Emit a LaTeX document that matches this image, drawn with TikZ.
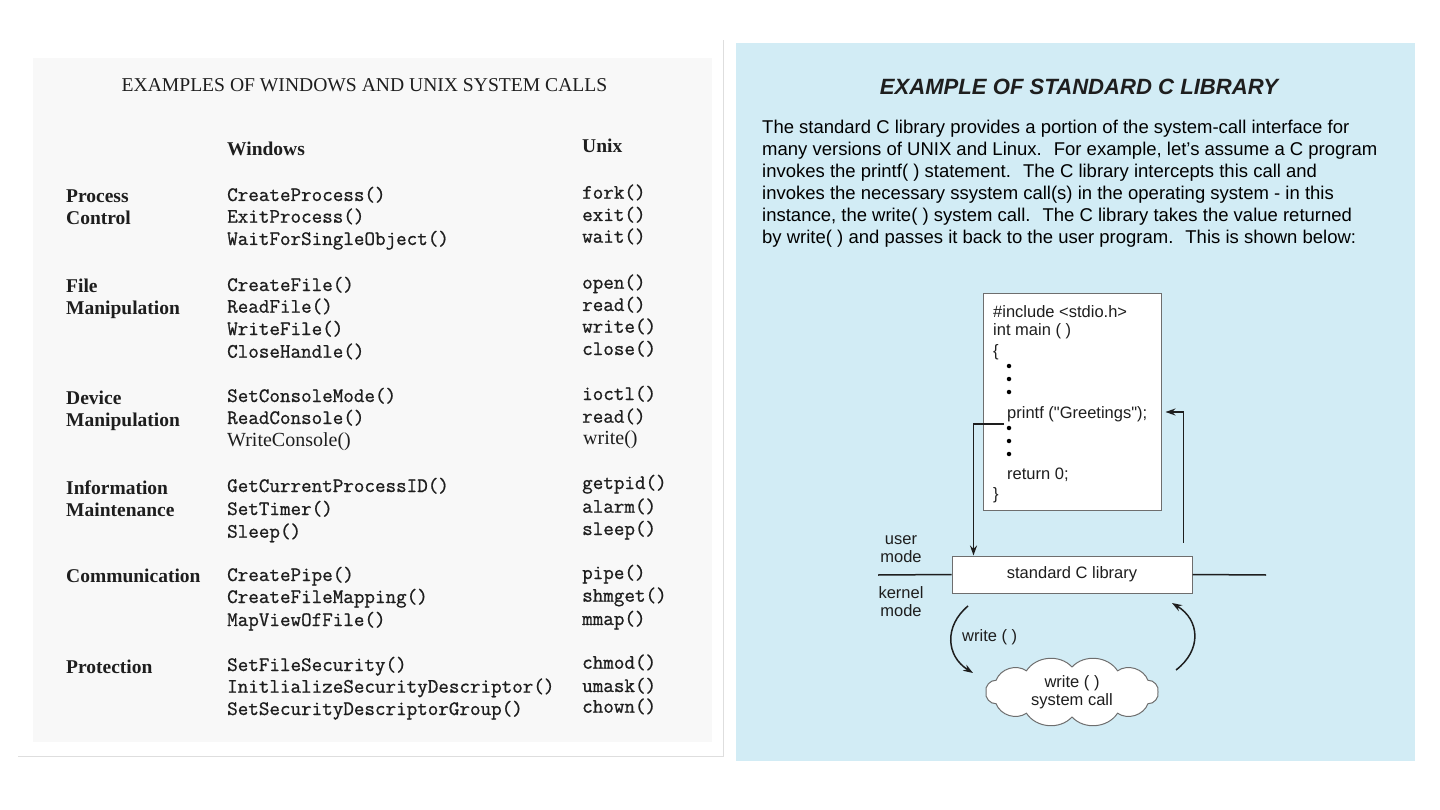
\documentclass[tikz,border=0pt]{standalone}
\usepackage{fontspec}
\setmainfont{Liberation Serif}
\newfontfamily\arialf{Liberation Sans}
\newfontfamily\monof[FakeBold=0.9]{Latin Modern Mono}
\usetikzlibrary{calc,arrows.meta}
\definecolor{panelblue}{RGB}{210,236,245}
\definecolor{paper}{RGB}{248,248,248}
\definecolor{edgegray}{RGB}{222,222,222}
\definecolor{ink}{RGB}{30,30,30}
\definecolor{boxedge}{RGB}{110,110,110}
\begin{document}
\begin{tikzpicture}[x=1pt,y=-1pt,
  rowlbl/.style={anchor=base west,inner sep=0pt,text=ink,font=\fontsize{19.5}{19.5}\selectfont\bfseries},
  hdr/.style={anchor=base west,inner sep=0pt,text=ink,font=\fontsize{19.5}{19.5}\selectfont\bfseries},
  call/.style={anchor=base west,inner sep=0pt,text=ink,font=\monof\fontsize{20.5}{20.5}\selectfont},
  rcall/.style={anchor=base west,inner sep=0pt,text=ink,font=\fontsize{20}{20}\selectfont},
  para/.style={anchor=base west,inner sep=0pt,text=black,font=\arialf\fontsize{18.5}{22}\selectfont},
  code/.style={anchor=base west,inner sep=0pt,text=ink,font=\arialf\fontsize{16.5}{18}\selectfont},
  small/.style={inner sep=0pt,text=ink,align=center,font=\arialf\fontsize{16.5}{18}\selectfont},
  arr/.style={draw=ink,line width=1.5pt,-{Stealth[length=10pt,width=7pt]}},
  puff/.style={bend left=52},
  dot/.style={circle,fill=black,inner sep=0pt,minimum size=4.5pt}]
\useasboundingbox (0,0) rectangle (1440,810);
\fill[white] (0,0) rectangle (1440,810);
% ---------- left panel ----------
\fill[paper] (33,58) rectangle (712,742);
\draw[edgegray,line width=1pt] (18,756) -- (723,756) -- (723,40);
\node[anchor=base,inner sep=0pt,text=ink,font=\fontsize{19.6}{19.6}\selectfont] (ttl) at (364.5,91.5) {EXAMPLES OF WINDOWS AND UNIX SYSTEM CALLS};
\node[hdr] (hw) at (227,156) {Windows};
\node[hdr] (hu) at (582,153) {Unix};
\foreach \t/\y [count=\i] in {Process/196.7,Control/219,File/286.7,Manipulation/308,Device/398,Manipulation/420,Information/488,Maintenance/510,Communication/576.7,Protection/667.7}
  \node[rowlbl] (l\i) at (66,\y+6) {\t};
\foreach \t/\y [count=\i] in {CreateProcess()/195,ExitProcess()/216.7,WaitForSingleObject()/239,CreateFile()/285,ReadFile()/306.7,WriteFile()/329,CloseHandle()/351.7,SetConsoleMode()/396,ReadConsole()/418,GetCurrentProcessID()/486,SetTimer()/509,Sleep()/531.7,CreatePipe()/575,CreateFileMapping()/597,MapViewOfFile()/620,SetFileSecurity()/665,InitlializeSecurityDescriptor()/686.7,SetSecurityDescriptorGroup()/709}
  \node[call] (w\i) at (227,\y+6) {\t};
\node[rcall] (wwc) at (227,446) {WriteConsole()};
\foreach \t/\y [count=\i] in {fork()/192.7,exit()/215,wait()/236.7,open()/282.7,read()/305,write()/326.7,close()/349,ioctl()/394,read()/416.7,getpid()/483,alarm()/506.7,sleep()/529,pipe()/573,shmget()/595.7,mmap()/619,chmod()/662.7,umask()/686,chown()/706.7}
  \node[call] (u\i) at (582,\y+6) {\t};
\node[rcall] (uwr) at (583,444) {write()};
% ---------- right panel ----------
\fill[panelblue] (736,43) rectangle (1415,761);
\node[anchor=base,inner sep=0pt,text=ink,font=\arialf\fontsize{22.1}{22.1}\selectfont\bfseries\itshape] (rt) at (1079,95) {EXAMPLE OF STANDARD C LIBRARY};
\node[para] (p1) at (762,134) {The standard C library provides a portion of the system-call interface for};
\node[para] (p2) at (762,156) {many versions of UNIX and Linux.~ For example, let’s assume a C program};
\node[para] (p3) at (762,178) {invokes the printf( ) statement.~ The C library intercepts this call and};
\node[para] (p4) at (762,200) {invokes the necessary ssystem call(s) in the operating system - in this};
\node[para] (p5) at (762,222) {instance, the write( ) system call.~ The C library takes the value returned};
\node[para] (p6) at (762,244) {by write( ) and passes it back to the user program.~ This is shown below:};
% code box
\node[draw=boxedge,fill=white,line width=1pt,minimum width=178pt,minimum height=216pt,inner sep=0pt] (cb) at (1072,402) {};
\node[code] (c1) at (993,317) {\#include <stdio.h>};
\node[code] (c2) at (993,335) {int main ( )};
\node[code] (c3) at (993,356) {\{};
\node[dot] (d1) at (1009,366) {};
\node[dot] (d2) at (1009,379) {};
\node[dot] (d3) at (1009,392) {};
\node[code] (pf) at (1007,418) {printf ("Greetings");};
\node[dot] (d4) at (1009,428) {};
\node[dot] (d5) at (1009,441) {};
\node[dot] (d6) at (1009,454) {};
\node[code] (c4) at (1007,479) {return 0;};
\node[code] (c5) at (993,499) {\}};
% library box and mode line
\node[draw=boxedge,fill=white,line width=1pt,minimum width=240pt,minimum height=37pt,inner sep=0pt,font=\arialf\fontsize{16.5}{18}\selectfont,text=ink] (lib) at (1072,574.5) {standard C library};
\coordinate (ml) at (878,575);
\coordinate (mr) at (1266,575);
\draw[ink,line width=1.5pt] (ml) -- (lib.west);
\draw[ink,line width=1.5pt] (lib.east) -- (mr);
\node[small] (um) at (901,549.5) {user\\mode};
\node[small] (km) at (901,601.5) {kernel\\mode};
% arrows between program and library
\draw[arr] ([xshift=-3pt,yshift=-6pt]pf.base west) -| ([xshift=22pt]lib.north west);
\draw[arr] ([xshift=-9pt,yshift=13pt]lib.north east) |- ([xshift=18pt,yshift=6pt]pf.base east);
% cloud
\coordinate (cc) at (1072,692);
\draw[draw=boxedge,fill=white,line width=1pt]
  ($(cc)+(0:86 and 25)$)
  to[puff] ($(cc)+(28:86 and 25)$)
  to[puff] ($(cc)+(58:86 and 25)$)
  to[puff] ($(cc)+(90:86 and 25)$)
  to[puff] ($(cc)+(122:86 and 25)$)
  to[puff] ($(cc)+(152:86 and 25)$)
  to[puff] ($(cc)+(180:86 and 25)$)
  to[puff] ($(cc)+(208:86 and 25)$)
  to[puff] ($(cc)+(238:86 and 25)$)
  to[puff] ($(cc)+(270:86 and 25)$)
  to[puff] ($(cc)+(302:86 and 25)$)
  to[puff] ($(cc)+(332:86 and 25)$)
  to[puff] ($(cc)+(360:86 and 25)$) -- cycle;
\node[small] (sc) at (cc) {write ( )\\system call};
\coordinate (la) at (968,606);
\coordinate (lb) at (973,673);
\coordinate (ra) at (1176,670);
\coordinate (rb) at (1172,603);
\draw[arr] (la) .. controls (944,626) and (946,656) .. (lb);
\draw[arr] (ra) .. controls (1202,650) and (1200,620) .. (rb);
\node[small,anchor=west] (wl) at (962,637) {write ( )};
\end{tikzpicture}
\end{document}
